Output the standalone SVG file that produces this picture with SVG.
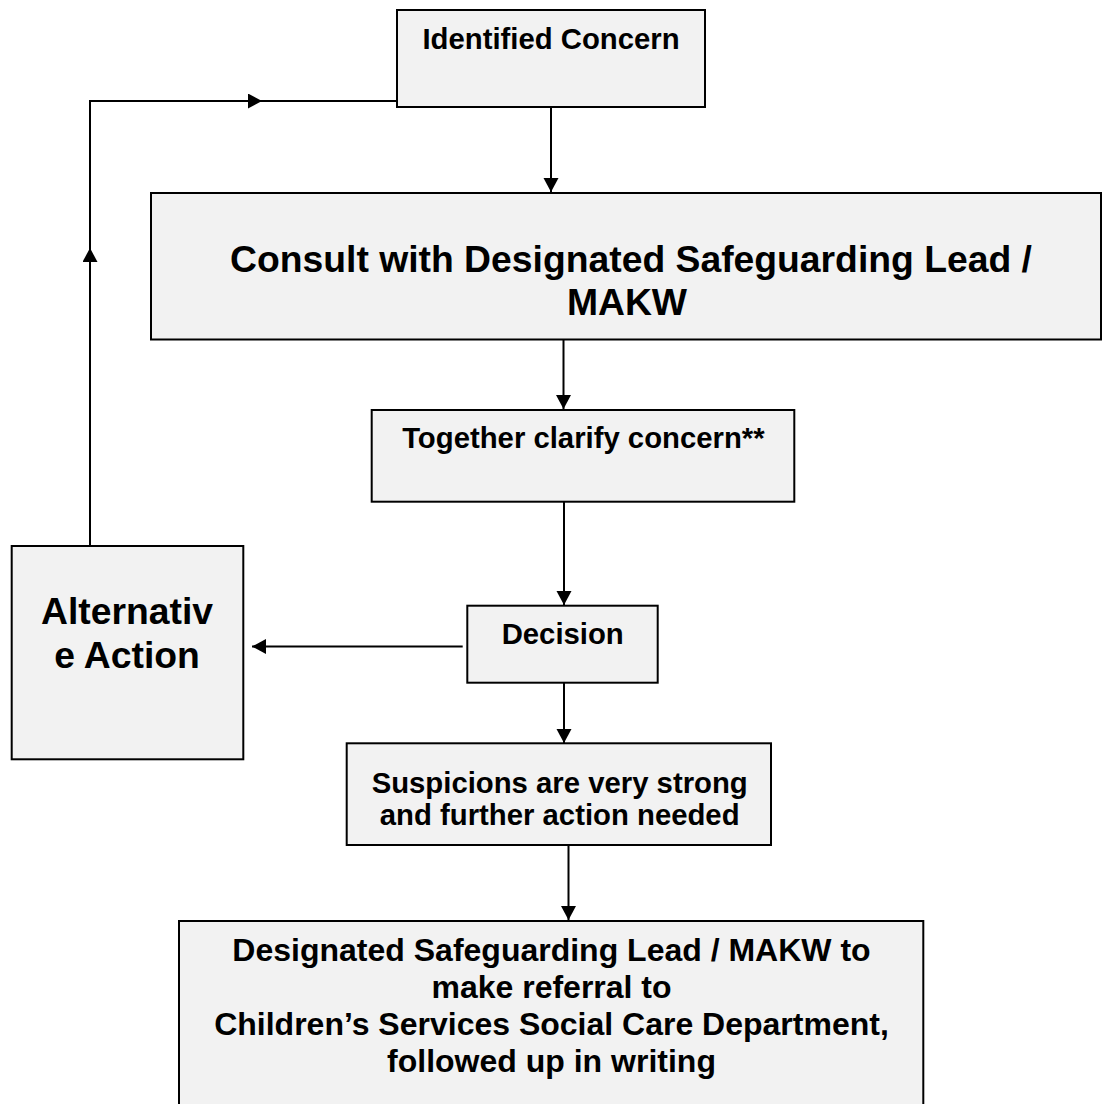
<svg xmlns="http://www.w3.org/2000/svg" width="1102" height="1104" viewBox="0 0 1102 1104">
<style>
.box{fill:#f2f2f2;stroke:#000;stroke-width:2}
.t{font-family:"Liberation Sans",Arial,sans-serif;font-weight:bold;fill:#000;text-anchor:middle}
.s29{font-size:29.3px}
.s37{font-size:37.3px}
.s32{font-size:32px}
.c{fill:none;stroke:#000;stroke-width:2}
</style>
<defs>
<marker id="ah" markerUnits="userSpaceOnUse" markerWidth="16" markerHeight="16" refX="14" refY="7.5" orient="auto">
<path d="M0,0 L14,7.5 L0,15 z" fill="#000"/>
</marker>
</defs>
<rect width="1102" height="1104" fill="#fff"/>
<g id="connectors">
<path class="c" d="M551,107 V192" marker-end="url(#ah)"/>
<path class="c" d="M563.5,339.5 V409" marker-end="url(#ah)"/>
<path class="c" d="M564,501.7 V605" marker-end="url(#ah)"/>
<path class="c" d="M462.7,646.5 H252" marker-end="url(#ah)"/>
<path class="c" d="M564,682.7 V743" marker-end="url(#ah)"/>
<path class="c" d="M568.5,845 V920" marker-end="url(#ah)"/>
<path class="c" d="M90,546 V248" marker-end="url(#ah)"/>
<path class="c" d="M90,250 V101 H262" marker-end="url(#ah)"/>
<path class="c" d="M260,101 H397"/>
</g>
<g id="identified">
<rect class="box" x="397" y="10" width="308" height="97"/>
<text class="t s29" x="551" y="49">Identified Concern</text>
</g>
<g id="consult">
<rect class="box" x="151" y="193" width="950" height="146.5"/>
<text class="t s37" x="631" y="272">Consult with Designated Safeguarding Lead /</text>
<text class="t s37" x="627" y="315">MAKW</text>
</g>
<g id="together">
<rect class="box" x="371.7" y="410" width="422.6" height="91.7"/>
<text class="t s29" x="583.4" y="448">Together clarify concern**</text>
</g>
<g id="alternative">
<rect class="box" x="11.7" y="546" width="231.6" height="213.3"/>
<text class="t s37" x="127" y="624">Alternativ</text>
<text class="t s37" x="127" y="668">e Action</text>
</g>
<g id="decision">
<rect class="box" x="467.3" y="605.7" width="190.4" height="77"/>
<text class="t s29" x="562.7" y="644">Decision</text>
</g>
<g id="suspicions">
<rect class="box" x="346.7" y="743.3" width="424.3" height="101.7"/>
<text class="t s29" x="559.7" y="793">Suspicions are very strong</text>
<text class="t s29" x="559.7" y="825">and further action needed</text>
</g>
<g id="designated">
<rect class="box" x="179" y="921" width="744.3" height="195"/>
<text class="t s32" x="551.5" y="961">Designated Safeguarding Lead / MAKW to</text>
<text class="t s32" x="551.5" y="998">make referral to</text>
<text class="t s32" x="551.5" y="1035">Children’s Services Social Care Department,</text>
<text class="t s32" x="551.5" y="1072">followed up in writing</text>
</g>
</svg>
